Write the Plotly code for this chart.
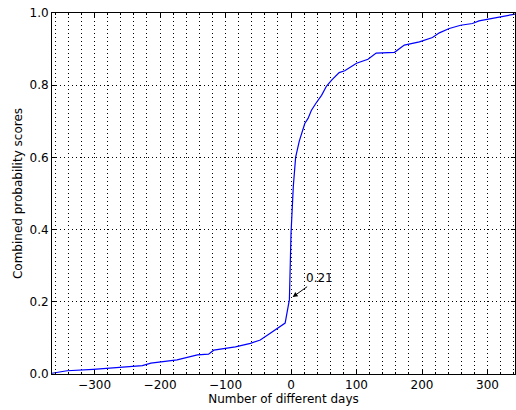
import plotly.graph_objects as go

days = [-365, -342, -302, -262, -227, -214, -189, -174, -143, -126, -118, -85, -62, -47, -34, -19,
        -9, -2.5, 0, 3.5, 7, 12.6, 17.7, 21, 26, 31, 38, 46.6, 54, 62, 73.5, 82, 100, 117.5, 130,
        158, 173, 196, 216, 226.5, 241.6, 259, 277, 287, 307.5, 328, 342]
scores = [0.002, 0.009, 0.013, 0.018, 0.023, 0.030, 0.035, 0.039, 0.053, 0.055, 0.066, 0.075, 0.085,
          0.094, 0.11, 0.13, 0.141, 0.206, 0.39, 0.52, 0.60, 0.645, 0.672, 0.694, 0.708, 0.73, 0.75,
          0.772, 0.797, 0.814, 0.835, 0.84, 0.861, 0.872, 0.889, 0.891, 0.911, 0.920, 0.932, 0.945,
          0.957, 0.966, 0.971, 0.978, 0.985, 0.992, 0.997]

annot_x = 0
annot_y = 0.21
annot_text = "0.21"

font = "DejaVu Sans, sans-serif"
dots = "1px,3px"

fig = go.Figure()
fig.add_trace(go.Scatter(x=days, y=scores, mode="lines",
                         line=dict(color="#0000ff", width=1.2), showlegend=False,
                         hoverinfo="skip"))

fig.add_annotation(x=annot_x, y=annot_y, text=annot_text, showarrow=True,
                   arrowhead=2, arrowsize=1, arrowwidth=1, arrowcolor="black",
                   ax=28, ay=-20, font=dict(family=font, size=12, color="black"),
                   standoff=2)

fig.update_layout(
    width=516, height=410,
    margin=dict(l=52, r=1, t=13, b=36),
    paper_bgcolor="white", plot_bgcolor="white",
    font=dict(family=font, size=12, color="black"),
    hovermode=False,
    xaxis=dict(range=[-365, 342], tickmode="linear", tick0=0, dtick=100,
               automargin=False,
               showgrid=True, gridcolor="black", griddash=dots, gridwidth=1,
               minor=dict(tickmode="linear", tick0=0, dtick=20, showgrid=True,
                          gridcolor="black", griddash=dots, gridwidth=1,
                          ticks="inside", ticklen=2, tickcolor="black"),
               ticks="inside", ticklen=4, tickcolor="black",
               showline=True, linecolor="black", linewidth=1, mirror="ticks",
               zeroline=False,
               title=dict(text="Number of different days", standoff=2,
                          font=dict(family=font, size=12))),
    yaxis=dict(range=[0, 1], tickmode="linear", tick0=0, dtick=0.2, tickformat=".1f",
               automargin=False,
               showgrid=True, gridcolor="black", griddash=dots, gridwidth=1,
               ticks="inside", ticklen=4, tickcolor="black",
               showline=True, linecolor="black", linewidth=1, mirror="ticks",
               zeroline=False,
               title=dict(text="Combined probability scores", standoff=4,
                          font=dict(family=font, size=12))),
)

fig.write_html("out.html", config={"displayModeBar": False},
               post_script="document.body.style.margin='0';")
